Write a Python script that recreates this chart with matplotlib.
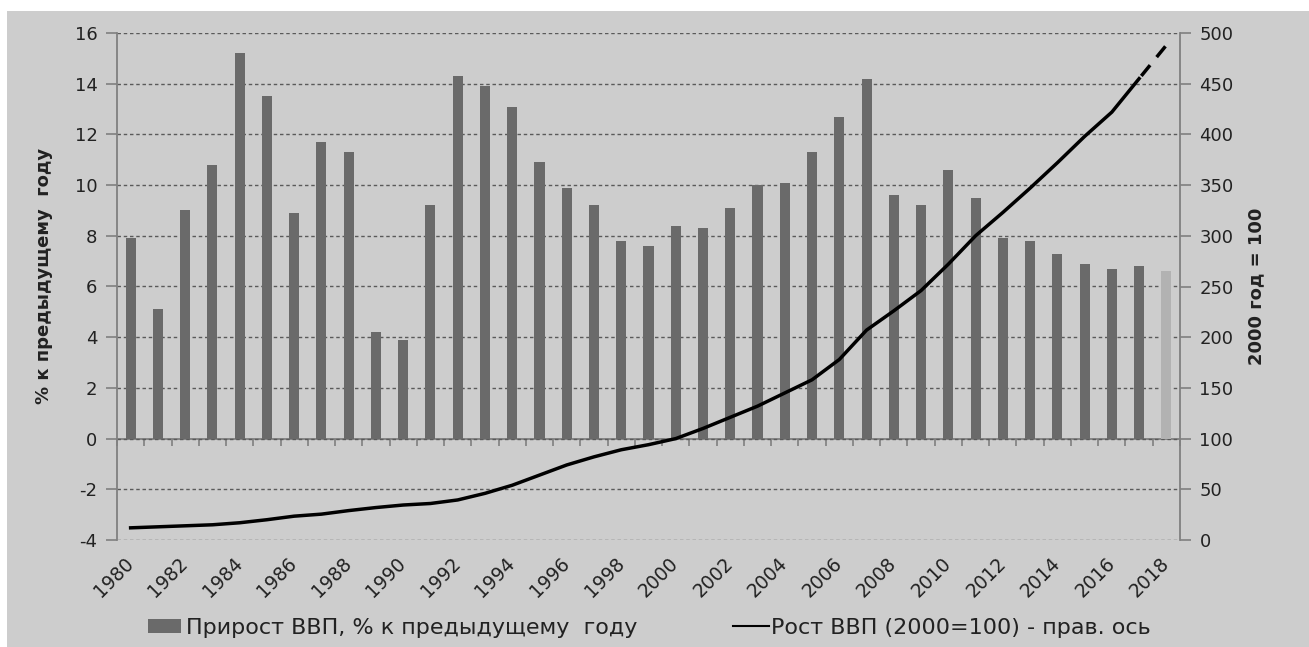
import numpy as np
import matplotlib
matplotlib.use('Agg')
from matplotlib import pyplot as plt
from matplotlib.patches import Rectangle, Patch
from matplotlib.lines import Line2D

years = list(range(1980, 2019))
growth = [7.9, 5.1, 9.0, 10.8, 15.2, 13.5, 8.9, 11.7, 11.3, 4.2,
          3.9, 9.2, 14.3, 13.9, 13.1, 10.9, 9.9, 9.2, 7.8, 7.6,
          8.4, 8.3, 9.1, 10.0, 10.1, 11.3, 12.7, 14.2, 9.6, 9.2,
          10.6, 9.5, 7.9, 7.8, 7.3, 6.9, 6.7, 6.8, 6.6]
index2000 = [12, 13, 14, 15, 17, 20, 23.5, 25.5, 29, 32,
             34.5, 36, 39.5, 46, 54, 64, 74, 82, 89, 94,
             100, 110, 121, 132, 145, 158, 178, 207, 226, 246,
             272, 300, 323, 347, 372, 398, 422, 455, 488]
label_years = [str(y) for y in years[::2]]

bg = '#cdcdcd'
bar_col = '#6a6a6a'
grid_col = '#5a5a5a'
spine_col = '#808080'

plt.rcParams['font.family'] = ['DejaVu Sans']
plt.rcParams['axes.unicode_minus'] = False

fig = plt.figure(figsize=(13.09, 6.47), dpi=100, facecolor='white')
fig.patches.append(Rectangle((7/1309, 0), 1, 1 - 11/647, transform=fig.transFigure,
                             facecolor=bg, edgecolor='none', zorder=-10))
ax = fig.add_axes([117/1309, 1 - 540/647, (1180 - 117)/1309, (540 - 33)/647])
ax.set_facecolor(bg)

x = np.arange(len(years))
colors = [bar_col] * (len(years) - 1) + ['#b2b2b2']
ax.bar(x, growth, width=0.37, color=colors, zorder=2)

ax.set_xlim(-0.5, len(years) - 0.5)
ax.set_ylim(-4, 16)
ax.set_yticks(np.arange(-4, 17, 2))
ax.yaxis.grid(True, linestyle=(0, (2.5, 2)), color=grid_col, linewidth=1)
ax.set_axisbelow(True)
for s in ['top', 'bottom', 'right']:
    ax.spines[s].set_visible(False)
ax.spines['left'].set_color(spine_col)
ax.spines['left'].set_linewidth(1.3)
ax.tick_params(axis='y', length=8, width=1.2, color=spine_col, labelsize=13,
               labelcolor='#222222', pad=6)
ax.set_xticks(x[::2])
ax.set_xticklabels(label_years, rotation=45, ha='right', va='center',
                   rotation_mode='anchor', fontsize=13.5, color='#222222')
ax.tick_params(axis='x', length=0, pad=15)
ax.set_ylabel('% к предыдущему  году', fontsize=13, fontweight='bold',
              color='#222222', labelpad=12)
ax.yaxis.set_label_coords(-0.06, 0.52)

# category axis line at zero
zax = ax.secondary_xaxis(0.2)
zax.spines['bottom'].set_color(spine_col)
zax.spines['bottom'].set_linewidth(1.3)
zax.set_xticks(np.arange(-0.5, len(years), 1))
zax.set_xticklabels([])
zax.tick_params(axis='x', length=5, width=1.2, color=spine_col, direction='out')

ax2 = ax.twinx()
ax2.set_ylim(0, 500)
ax2.set_yticks(np.arange(0, 501, 50))
for s in ['top', 'bottom', 'left']:
    ax2.spines[s].set_visible(False)
ax2.spines['right'].set_color(spine_col)
ax2.spines['right'].set_linewidth(1.3)
ax2.tick_params(axis='y', length=8, width=1.2, color=spine_col, labelsize=13,
                labelcolor='#222222', pad=6)
ax2.set_ylabel('2000 год = 100', fontsize=13, fontweight='bold',
               color='#222222', labelpad=10)
ax2.plot(x[:-1], index2000[:-1], color='black', linewidth=2.5, zorder=3)
ax2.plot(x[-2:], index2000[-2:], color='black', linewidth=2.5,
         linestyle=(6, (4, 3)), zorder=3)

leg_y = 1 - 628/647
fig.legend([Patch(facecolor=bar_col, edgecolor='none')],
           ['Прирост ВВП, % к предыдущему  году'],
           loc='center left', bbox_to_anchor=(128/1309, leg_y),
           frameon=False, fontsize=16, handlelength=1.5, handleheight=0.6,
           handletextpad=0.2, labelcolor='#222222')
fig.legend([Line2D([], [], color='black', linewidth=1.5)],
           ['Рост ВВП (2000=100) - прав. ось'],
           loc='center left', bbox_to_anchor=(713/1309, leg_y),
           frameon=False, fontsize=16, handlelength=1.6,
           handletextpad=0.1, labelcolor='#222222')

fig.savefig('out.png', dpi=100, facecolor='white')
